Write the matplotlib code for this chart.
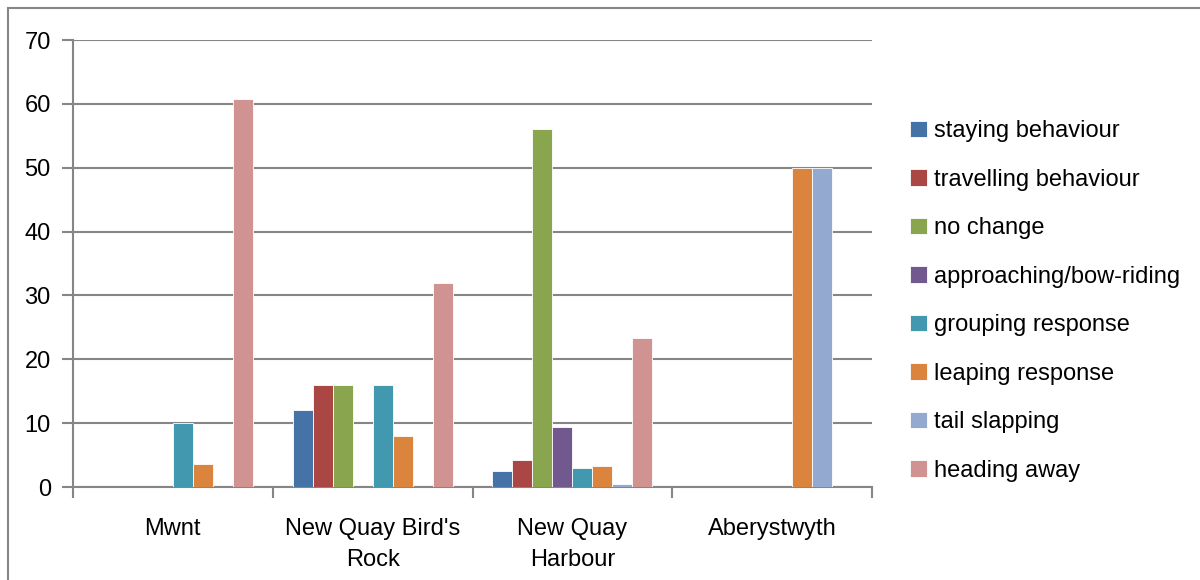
import numpy as np
import matplotlib.pyplot as plt
from matplotlib.patches import Rectangle

plt.rcParams['font.family'] = ['Liberation Sans', 'DejaVu Sans']

sites = ["Mwnt", "New Quay Bird's\nRock", "New Quay\nHarbour", "Aberystwyth"]
behaviours = ["staying behaviour", "travelling behaviour", "no change",
              "approaching/bow-riding", "grouping response", "leaping response",
              "tail slapping", "heading away"]
colors = ["#4572A7", "#AA4643", "#89A54E", "#71588F",
          "#4198AF", "#DB843D", "#93A9CF", "#D19392"]

# one list per behaviour, values per site (percent)
staying = [0, 12, 2.5, 0]
travelling = [0, 16, 4.3, 0]
no_change = [0, 16, 56, 0]
approaching = [0, 0, 9.4, 0]
grouping = [10, 16, 2.9, 0]
leaping = [3.6, 8, 3.3, 50]
tail_slapping = [0, 0, 0.4, 50]
heading_away = [60.8, 32, 23.3, 0]
series = [staying, travelling, no_change, approaching,
          grouping, leaping, tail_slapping, heading_away]

fig = plt.figure(figsize=(12, 5.8), dpi=100)
ax = fig.add_axes([73/1200, 93/580, 799/1200, 447/580])

grey = "#868686"
x = np.arange(len(sites))
w = 0.1
for i, (vals, col, name) in enumerate(zip(series, colors, behaviours)):
    ax.bar(x - 0.35 + i*w, vals, width=w, color=col, edgecolor="white",
           linewidth=0.6, label=name, zorder=3)

ax.set_xlim(-0.5, len(sites) - 0.5)
ax.set_ylim(0, 70)
ax.set_yticks(range(0, 71, 10))
ax.yaxis.grid(True, color=grey, linewidth=1.5, zorder=0)

# category labels centred, tick marks between categories
ax.set_xticks(x)
ax.set_xticklabels(sites, fontsize=17, linespacing=1.55)
ax.tick_params(axis='x', length=0, pad=22)
ax.set_xticks(np.arange(-0.5, len(sites)), minor=True)
ax.tick_params(axis='x', which='minor', length=8, width=1.5, color=grey, direction='out')
ax.tick_params(axis='y', length=8, width=1.5, color=grey, labelsize=17, pad=8)

for s in ['top', 'right']:
    ax.spines[s].set_visible(False)
for s in ['left', 'bottom']:
    ax.spines[s].set_color(grey)
    ax.spines[s].set_linewidth(1.5)

ax.legend(loc='center left', bbox_to_anchor=(910/1200, 1 - 301/580),
          bbox_transform=fig.transFigure, frameon=False, fontsize=17,
          handlelength=0.7, handleheight=0.7, handletextpad=0.3,
          labelspacing=1.12, borderaxespad=0, borderpad=0)

# outer chart border
fig.patches.append(Rectangle((8/1200, -0.05), 1.1, (572/580) + 0.05,
                             transform=fig.transFigure, fill=False,
                             edgecolor=grey, linewidth=1.5))

fig.savefig("out.png", dpi=100)
